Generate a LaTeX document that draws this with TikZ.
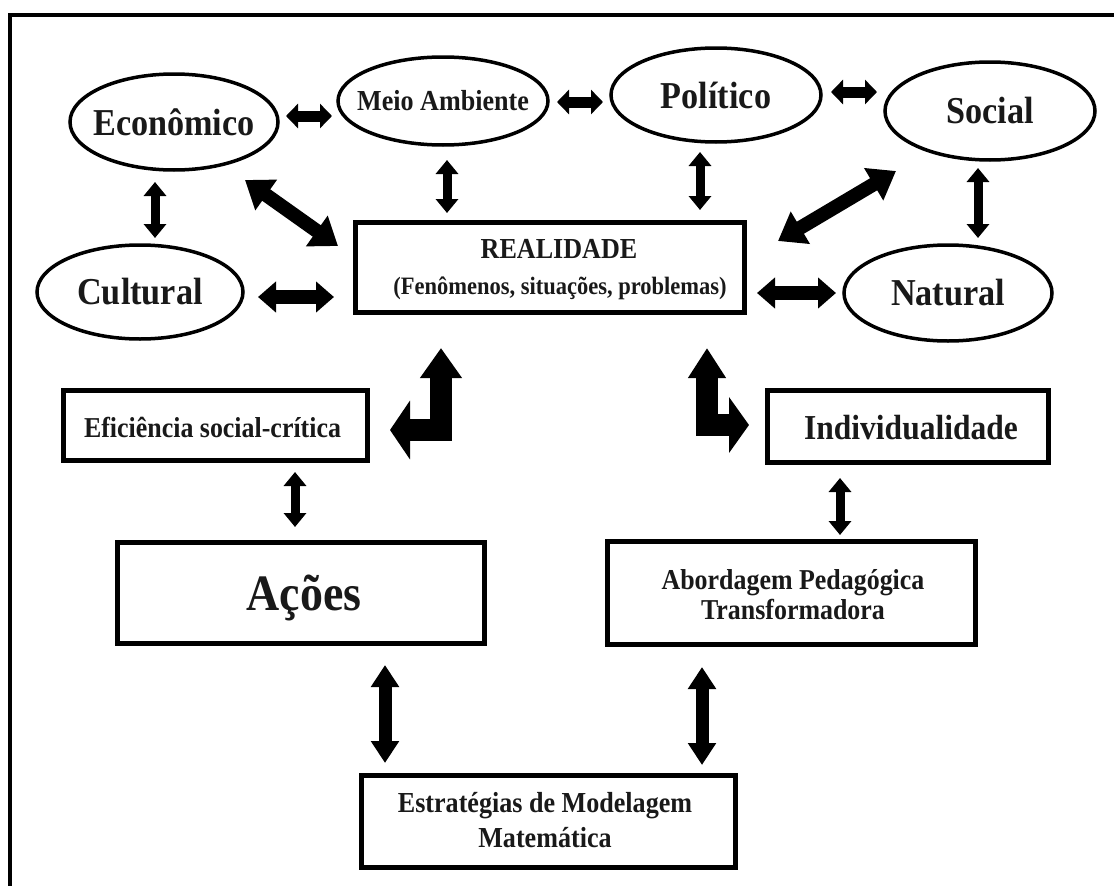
\documentclass[tikz,border=0pt]{standalone}
\usepackage{fontspec}
\setmainfont[FakeStretch=0.9]{Liberation Serif}
\usetikzlibrary{arrows.meta,shapes.geometric}

\begin{document}
\begin{tikzpicture}[x=1pt,y=-1pt,
  oval/.style={draw, ellipse, line width=3.5pt, inner sep=0pt},
  box/.style={draw, rectangle, line width=5pt, inner sep=0pt},
  lbl/.style={font=\bfseries, inner sep=0pt, align=center, text=black!90},
  biarrow/.style n args={3}{line width=#1, line join=miter,
    {Triangle[width=#2,length=#3]}-{Triangle[width=#2,length=#3]}}
]
\useasboundingbox (0,0) rectangle (1114,886);
\clip (0,0) rectangle (1114,886);

% outer frame, running past the page on the right and at the bottom
\draw[line width=4pt] (10,900) -- (10,15) -- (1130,15);

% context ellipses
\node[oval, minimum width=208, minimum height=96] (eco)  at (174,122) {};
\node[oval, minimum width=210, minimum height=88] (meio) at (443,101) {};
\node[oval, minimum width=210, minimum height=94] (pol)  at (716,95)  {};
\node[oval, minimum width=210, minimum height=98] (soc)  at (990,111) {};
\node[oval, minimum width=206, minimum height=94] (cult) at (140,292) {};
\node[oval, minimum width=208, minimum height=96] (nat)  at (948,293) {};

\node[lbl, font=\bfseries\fontsize{38}{40}\selectfont] (eco-t)  at (eco)  {Econômico};
\node[lbl, font=\bfseries\fontsize{29}{31}\selectfont] (meio-t) at (meio) {Meio Ambiente};
\node[lbl, font=\bfseries\fontsize{38}{40}\selectfont] (pol-t)  at (pol)  {Político};
\node[lbl, font=\bfseries\fontsize{38}{40}\selectfont] (soc-t)  at (soc)  {Social};
\node[lbl, font=\bfseries\fontsize{38}{40}\selectfont] (cult-t) at (cult) {Cultural};
\node[lbl, font=\bfseries\fontsize{38}{40}\selectfont] (nat-t)  at (nat)  {Natural};

% boxes
\node[box, minimum width=389, minimum height=90]  (real)  at (550,267.5) {};
\node[box, minimum width=304, minimum height=70]  (efic)  at (215.5,425.5) {};
\node[box, minimum width=281, minimum height=72]  (indiv) at (908,426.5) {};
\node[box, minimum width=367, minimum height=101] (acoes) at (301,593) {};
\node[box, minimum width=368, minimum height=103] (abord) at (791.5,593) {};
\node[box, minimum width=374, minimum height=92]  (estr)  at (548.5,821.5) {};

\node[lbl, font=\bfseries\fontsize{29}{31}\selectfont] (real-t1) at (559,249) {REALIDADE};
\node[lbl, font=\bfseries\fontsize{25}{27}\selectfont] (real-t2) at (560,288) {(Fenômenos, situações, problemas)};
\node[lbl, font=\bfseries\fontsize{28.8}{30}\selectfont] (efic-t) at (212.5,427) {Eficiência social-crítica};
\node[lbl, font=\bfseries\fontsize{35}{37}\selectfont] (indiv-t) at (911,428) {Individualidade};
\node[lbl, font=\bfseries\fontsize{51}{53}\selectfont] (acoes-t) at (304,598) {Ações};
\node[lbl, font=\bfseries\fontsize{28.8}{30}\selectfont] (abord-t) at (793,595) {Abordagem Pedagógica\\Transformadora};
\node[lbl, font=\bfseries\fontsize{29}{35}\selectfont] (estr-t) at (545,820) {Estratégias de Modelagem\\Matemática};

% arrow end points
\coordinate (a1s) at (286,116); \coordinate (a1e) at (332,116);
\coordinate (a2s) at (557,102); \coordinate (a2e) at (603,102);
\coordinate (a3s) at (831,92);  \coordinate (a3e) at (877,92);
\coordinate (a4s) at (155,182); \coordinate (a4e) at (155,238);
\coordinate (a5s) at (447,160); \coordinate (a5e) at (447,213);
\coordinate (a6s) at (700,152); \coordinate (a6e) at (700,210);
\coordinate (a7s) at (978,168); \coordinate (a7e) at (978,238);
\coordinate (a8s) at (245,180); \coordinate (a8e) at (338,246);
\coordinate (a9s) at (896,171); \coordinate (a9e) at (778,241);
\coordinate (a10s) at (258,297); \coordinate (a10e) at (334,297);
\coordinate (a11s) at (757,293); \coordinate (a11e) at (836,293);
\coordinate (b1s) at (441,348); \coordinate (b1m) at (441,430); \coordinate (b1e) at (390,430);
\coordinate (b2s) at (707,348); \coordinate (b2m) at (707,425); \coordinate (b2e) at (749,425);
\coordinate (a14s) at (295,472); \coordinate (a14e) at (295,527);
\coordinate (a15s) at (840,478); \coordinate (a15e) at (840,535);
\coordinate (a16s) at (385,665); \coordinate (a16e) at (385,763);
\coordinate (a17s) at (702,667); \coordinate (a17e) at (702,765);

% two-way arrows between the ellipses
\draw[biarrow={11pt}{24pt}{12pt}] (a1s) -- (a1e);
\draw[biarrow={11pt}{24pt}{12pt}] (a2s) -- (a2e);
\draw[biarrow={11pt}{24pt}{12pt}] (a3s) -- (a3e);
\draw[biarrow={9pt}{22pt}{14pt}] (a4s) -- (a4e);
\draw[biarrow={9pt}{22pt}{14pt}] (a5s) -- (a5e);
\draw[biarrow={9pt}{22pt}{14pt}] (a6s) -- (a6e);
\draw[biarrow={9pt}{22pt}{14pt}] (a7s) -- (a7e);
\draw[biarrow={14pt}{36pt}{26pt}] (a8s) -- (a8e);
\draw[biarrow={14pt}{36pt}{26pt}] (a9s) -- (a9e);
\draw[biarrow={14pt}{30pt}{18pt}] (a10s) -- (a10e);
\draw[biarrow={14pt}{30pt}{18pt}] (a11s) -- (a11e);

% bent arrows under the central box
\draw[line width=22pt, line join=miter,
  {Triangle[width=40pt,length=30pt]}-{Triangle[width=58pt,length=20pt]}] (b1s) -- (b1m) -- (b1e);
\draw[line width=22pt, line join=miter,
  {Triangle[width=36pt,length=30pt]}-{Triangle[width=55pt,length=20pt]}] (b2s) -- (b2m) -- (b2e);

% lower arrows
\draw[biarrow={9pt}{22pt}{14pt}] (a14s) -- (a14e);
\draw[biarrow={9pt}{22pt}{14pt}] (a15s) -- (a15e);
\draw[biarrow={13pt}{27pt}{22pt}] (a16s) -- (a16e);
\draw[biarrow={13pt}{27pt}{22pt}] (a17s) -- (a17e);
\end{tikzpicture}
\end{document}
